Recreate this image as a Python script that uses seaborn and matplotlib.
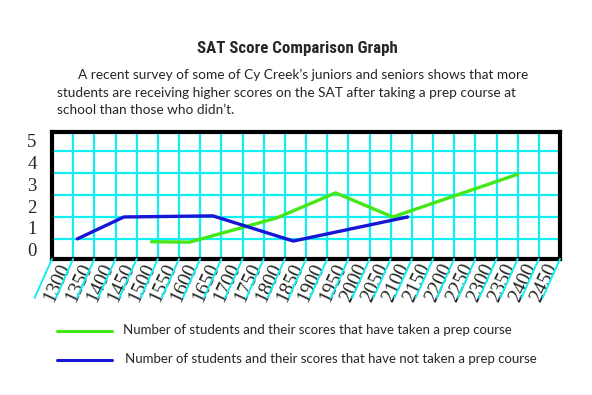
import matplotlib
matplotlib.use("Agg")
import matplotlib.pyplot as plt
import matplotlib.transforms as mtransforms
from matplotlib.lines import Line2D
import numpy as np
import pandas as pd
import seaborn as sns

# ---------------------------------------------------------------------------
# Data
# ---------------------------------------------------------------------------
score_labels = ["1300", "1350", "1400", "1450", "1500", "1550", "1600", "1650",
                "1700", "1750", "1800", "1850", "1900", "1950", "2000", "2050",
                "2100", "2150", "2200", "2250", "2300", "2350", "2400", "2450"]
count_labels = ["0", "1", "2", "3", "4", "5"]

prep_scores = [1510, 1600, 1805, 1945, 2080, 2375]
prep_counts = [-0.13, -0.15, 0.95, 2.1, 1.0, 2.95]

noprep_scores = [1335, 1445, 1655, 1845, 2115]
noprep_counts = [0.0, 1.0, 1.05, -0.1, 1.0]

prep_name = "Number of students and their scores that have taken a prep course"
noprep_name = "Number of students and their scores that have not taken a prep course"

GREEN = "#44e816"
BLUE = "#1616d4"
CYAN = "#12eef4"

df = pd.concat([
    pd.DataFrame({"score": prep_scores, "count": prep_counts, "group": prep_name}),
    pd.DataFrame({"score": noprep_scores, "count": noprep_counts, "group": noprep_name}),
], ignore_index=True)

sns.set_style("white")
plt.rcParams["font.family"] = ["Liberation Serif", "DejaVu Serif"]

fig = plt.figure(figsize=(5.92, 3.95), dpi=100)
ax = fig.add_axes([52 / 592, 1 - 259 / 395, 508 / 592, 127 / 395])

palette = {prep_name: GREEN, noprep_name: BLUE}
sns.lineplot(data=df, x="score", y="count", hue="group", palette=palette,
             linewidth=2.4, legend=False, ax=ax, estimator=None)

# axis ranges: each label sits in a cell between two cyan grid lines
step = 50
x_lo = int(score_labels[0]) - step / 2
x_hi = int(score_labels[-1]) + step / 2
ax.set_xlim(x_lo, x_hi)
ax.set_ylim(-0.92, 4.88)

bounds = np.arange(x_lo, x_hi + 1, step)
ax.set_xticks(bounds[1:-1])
ax.set_xticklabels([])
ax.set_xticks([int(s) for s in score_labels], minor=True)
ax.set_xticklabels(score_labels, minor=True, rotation=65, fontsize=14.5,
                   rotation_mode="anchor", ha="right", va="center")

ax.set_yticks(range(len(count_labels) - 1))
ax.set_yticklabels([])
ax.set_yticks([i - 0.5 for i in range(len(count_labels))], minor=True)
ax.set_yticklabels(count_labels, minor=True, fontsize=13.5)

ax.grid(True, which="major", color=CYAN, linewidth=1.6)
ax.set_axisbelow(True)
ax.tick_params(axis="x", which="major", length=0)
ax.tick_params(axis="y", which="major", length=16, width=1.6, color=CYAN,
               direction="out")
ax.tick_params(axis="both", which="minor", length=0)
ax.tick_params(axis="y", which="minor", pad=11)
ax.tick_params(axis="x", which="minor", pad=4)
ax.set_xlabel("")
ax.set_ylabel("")

shift = mtransforms.ScaledTranslation(4 / 100, 0, fig.dpi_scale_trans)
for lab in ax.get_xticklabels(minor=True):
    lab.set_transform(lab.get_transform() + shift)

# slanted cyan guides under the x axis
for b in bounds:
    ax.annotate("", xy=(b, 0), xycoords=("data", "axes fraction"),
                xytext=(-12.5, -28), textcoords="offset points",
                arrowprops=dict(arrowstyle="-", color=CYAN, lw=1.4,
                                shrinkA=0, shrinkB=0),
                annotation_clip=False)

for sp in ax.spines.values():
    sp.set_visible(True)
    sp.set_color("black")
    sp.set_linewidth(3)

# heading and blurb
sans = ["Lato", "DejaVu Sans"]
fig.text(297 / 592, 1 - 49 / 395, "SAT Score Comparison Graph",
         ha="center", va="center", fontsize=12.2, fontweight="bold",
         family=["Roboto Condensed", "Liberation Sans Narrow", "Roboto", "DejaVu Sans"])
blurb = ["A recent survey of some of Cy Creek\u2019s juniors and seniors shows that more",
         "students are receiving higher scores on the SAT after taking a prep course at",
         "school than those who didn\u2019t."]
blurb_x = [78, 57, 57]
blurb_y = [75, 93, 110]
for line, bx, by in zip(blurb, blurb_x, blurb_y):
    fig.text(bx / 592, 1 - by / 395, line, ha="left", va="center",
             fontsize=9.8, family=sans)

# key at the bottom, one row per series
key_names = [prep_name, noprep_name]
key_y = [331, 360]
key_text_x = [123, 125]
for name, ky, tx in zip(key_names, key_y, key_text_x):
    fig.add_artist(Line2D([57 / 592, 112 / 592], [1 - ky / 395] * 2,
                          color=palette[name], linewidth=2.2,
                          transform=fig.transFigure))
    fig.text(tx / 592, 1 - (ky - 1) / 395, name, ha="left", va="center",
             fontsize=9.5, family=sans)

fig.savefig("out.png", dpi=100)
